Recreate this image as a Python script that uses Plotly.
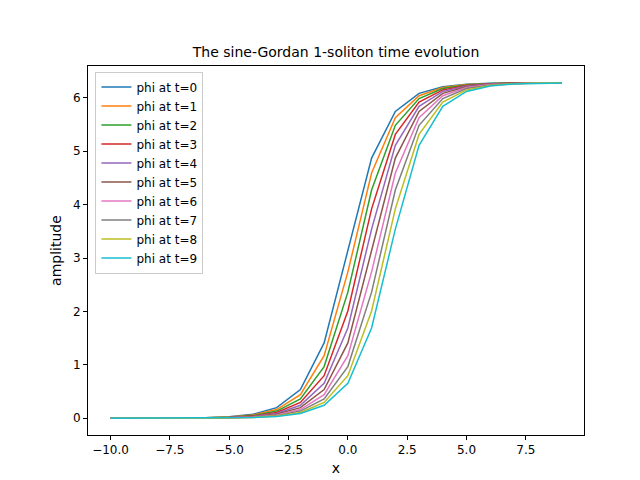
import plotly.graph_objects as go

x = list(range(-10, 10))

phi_t0 = [0.0, 0.0, 0.001, 0.004, 0.01, 0.027, 0.073, 0.199, 0.538, 1.41, 3.142, 4.873, 5.745, 6.084, 6.21, 6.256, 6.273, 6.279, 6.283, 6.283]
phi_t1 = [0.0, 0.0, 0.001, 0.003, 0.008, 0.022, 0.06, 0.163, 0.441, 1.17, 2.742, 4.593, 5.628, 6.04, 6.193, 6.25, 6.271, 6.278, 6.282, 6.283]
phi_t2 = [0.0, 0.0, 0.001, 0.002, 0.007, 0.018, 0.049, 0.134, 0.362, 0.967, 2.362, 4.275, 5.486, 5.986, 6.174, 6.243, 6.268, 6.278, 6.281, 6.283]
phi_t3 = [0.0, 0.0, 0.0, 0.002, 0.005, 0.015, 0.04, 0.109, 0.297, 0.797, 2.008, 3.921, 5.316, 5.921, 6.149, 6.234, 6.265, 6.277, 6.281, 6.282]
phi_t4 = [0.0, 0.0, 0.0, 0.002, 0.0045, 0.012, 0.033, 0.09, 0.243, 0.655, 1.69, 3.541, 5.113, 5.842, 6.12, 6.223, 6.261, 6.275, 6.28, 6.282]
phi_t5 = [0.0, 0.0, 0.0, 0.001, 0.004, 0.01, 0.027, 0.073, 0.199, 0.538, 1.41, 3.142, 4.873, 5.745, 6.084, 6.21, 6.256, 6.273, 6.279, 6.282]
phi_t6 = [0.0, 0.0, 0.0, 0.001, 0.003, 0.008, 0.022, 0.06, 0.163, 0.441, 1.17, 2.742, 4.593, 5.628, 6.04, 6.193, 6.25, 6.271, 6.278, 6.281]
phi_t7 = [0.0, 0.0, 0.0, 0.001, 0.002, 0.007, 0.018, 0.049, 0.134, 0.362, 0.967, 2.362, 4.275, 5.486, 5.986, 6.174, 6.243, 6.268, 6.278, 6.281]
phi_t8 = [0.0, 0.0, 0.0, 0.0, 0.002, 0.005, 0.015, 0.04, 0.109, 0.297, 0.797, 2.008, 3.921, 5.316, 5.921, 6.149, 6.234, 6.265, 6.277, 6.281]
phi_t9 = [0.0, 0.0, 0.0, 0.0, 0.002, 0.0045, 0.012, 0.033, 0.09, 0.243, 0.655, 1.69, 3.541, 5.113, 5.842, 6.12, 6.223, 6.261, 6.275, 6.28]

series = [phi_t0, phi_t1, phi_t2, phi_t3, phi_t4, phi_t5, phi_t6, phi_t7, phi_t8, phi_t9]
colors = ['#1f77b4', '#ff7f0e', '#2ca02c', '#d62728', '#9467bd',
          '#8c564b', '#e377c2', '#7f7f7f', '#bcbd22', '#17becf']

fig = go.Figure()
for t, (y, c) in enumerate(zip(series, colors)):
    fig.add_trace(go.Scatter(x=x, y=y, mode='lines', name=f'phi at t={t}',
                             line=dict(color=c, width=1.5)))

axis_style = dict(showgrid=False, zeroline=False, showline=True, mirror=True,
                  linecolor='black', linewidth=1, ticks='outside', ticklen=4,
                  tickcolor='black', tickfont=dict(size=12), automargin=False)

fig.update_layout(
    width=640, height=480,
    margin=dict(l=80, r=64, t=58, b=53),
    paper_bgcolor='white', plot_bgcolor='white',
    font=dict(family='DejaVu Sans', size=12, color='black'),
    title=dict(text='The sine-Gordan 1-soliton time evolution', x=0.5, xanchor='center',
               xref='paper', yref='container', y=0.908, yanchor='middle', font=dict(size=14)),
    xaxis=dict(axis_style, range=[-10.95, 9.95], tickvals=[-10, -7.5, -5, -2.5, 0, 2.5, 5, 7.5],
               ticktext=['−10.0', '−7.5', '−5.0', '−2.5', '0.0', '2.5', '5.0', '7.5'],
               title=dict(text='x', standoff=6)),
    yaxis=dict(axis_style, range=[-0.314, 6.597], tickvals=[0, 1, 2, 3, 4, 5, 6],
               title=dict(text='amplitude', standoff=8)),
    legend=dict(x=0.015, y=0.985, xanchor='left', yanchor='top',
                bgcolor='rgba(255,255,255,0.8)', bordercolor='#cccccc', borderwidth=1,
                font=dict(size=12), tracegroupgap=0),
    showlegend=True,
)

fig.write_html("out.html")
